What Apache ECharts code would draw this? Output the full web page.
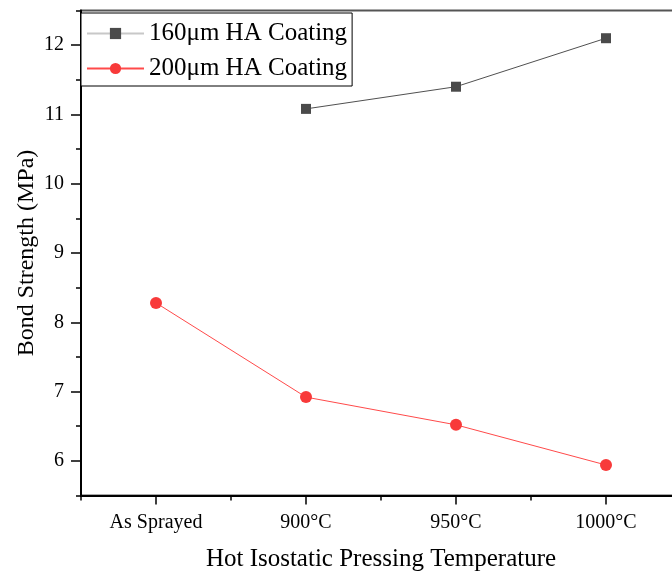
<!DOCTYPE html>
<html>
<head>
<meta charset="utf-8">
<script src="https://cdn.jsdelivr.net/npm/echarts@6/dist/echarts.min.js"></script>
<style>html,body{margin:0;padding:0;background:#fff}#c{width:672px;height:572px}</style>
</head>
<body>
<div id="c"></div>
<script>
var categories = ['As Sprayed', '900°C', '950°C', '1000°C'];
var seriesNames = ['160μm HA Coating', '200μm HA Coating'];
var coating160 = [null, 11.08, 11.40, 12.10];
var coating200 = [8.28, 6.92, 6.52, 5.94];
var yTicks = [6, 7, 8, 9, 10, 11, 12];
var yMin = 5.5, yMax = 12.5;

var FONT = "'Liberation Serif','Times New Roman',serif";
var chart = echarts.init(document.getElementById('c'), null, {renderer: 'canvas'});
chart.setOption({
  backgroundColor: '#fff',
  animation: false,
  grid: {left: 81, top: 10.5, width: 600, height: 485, outerBoundsMode: 'none', show: true, borderColor: '#555', borderWidth: 2, backgroundColor: 'transparent', containLabel: false},
  legend: {
    orient: 'vertical', left: 81, top: 13,
    itemWidth: 57, itemHeight: 14, itemGap: 10,
    padding: [8, 5, 5, 5],
    borderColor: '#000', borderWidth: 1, borderRadius: 0, backgroundColor: '#fff',
    textStyle: {fontFamily: FONT, fontSize: 25, color: '#000'},
    data: [
      {name: seriesNames[0], lineStyle: {color: '#c8c8c8'}},
      {name: seriesNames[1]}
    ]
  },
  xAxis: [
    {
      type: 'category', data: categories, boundaryGap: true, position: 'bottom',
      axisLine: {show: true, lineStyle: {color: '#000', width: 2}},
      axisTick: {show: true, alignWithLabel: false, inside: false, length: 5, lineStyle: {color: '#000', width: 1.5}},
      axisLabel: {show: false},
      splitLine: {show: false},
      name: 'Hot Isostatic Pressing Temperature', nameLocation: 'middle', nameGap: 51,
      nameTextStyle: {fontFamily: FONT, fontSize: 25, color: '#000'}
    },
    {
      type: 'category', data: categories, boundaryGap: true, position: 'bottom',
      axisLine: {show: false},
      axisTick: {show: true, alignWithLabel: true, inside: false, length: 9, lineStyle: {color: '#000', width: 1.5}},
      axisLabel: {show: true, margin: 17, fontFamily: FONT, fontSize: 20, color: '#000'},
      splitLine: {show: false}
    }
  ],
  yAxis: [
    {
      type: 'value', min: yMin, max: yMax, interval: 0.5,
      axisLine: {show: true, lineStyle: {color: '#000', width: 2}},
      axisTick: {show: true, inside: false, length: 5, lineStyle: {color: '#000', width: 1.5}},
      axisLabel: {show: false},
      splitLine: {show: false},
      name: 'Bond Strength (MPa)', nameLocation: 'middle', nameGap: 42,
      nameTextStyle: {fontFamily: FONT, fontSize: 24, color: '#000'}
    },
    {
      type: 'value', min: yMin, max: yMax, position: 'left',
      axisLine: {show: false},
      axisTick: {show: true, inside: false, length: 10, customValues: yTicks, lineStyle: {color: '#000', width: 1.5}},
      axisLabel: {show: true, margin: 17, customValues: yTicks, fontFamily: FONT, fontSize: 20, color: '#000'},
      splitLine: {show: false}
    }
  ],
  series: [
    {
      name: seriesNames[0], type: 'line', xAxisIndex: 0, yAxisIndex: 0,
      data: coating160,
      symbol: 'rect', symbolSize: 10,
      itemStyle: {color: '#4a4a4a'},
      lineStyle: {color: '#505050', width: 1}
    },
    {
      name: seriesNames[1], type: 'line', xAxisIndex: 0, yAxisIndex: 0,
      data: coating200,
      symbol: 'circle', symbolSize: 12,
      itemStyle: {color: '#f83a3a'},
      lineStyle: {color: '#ff4a4a', width: 1}
    }
  ]
});
</script>
</body>
</html>
